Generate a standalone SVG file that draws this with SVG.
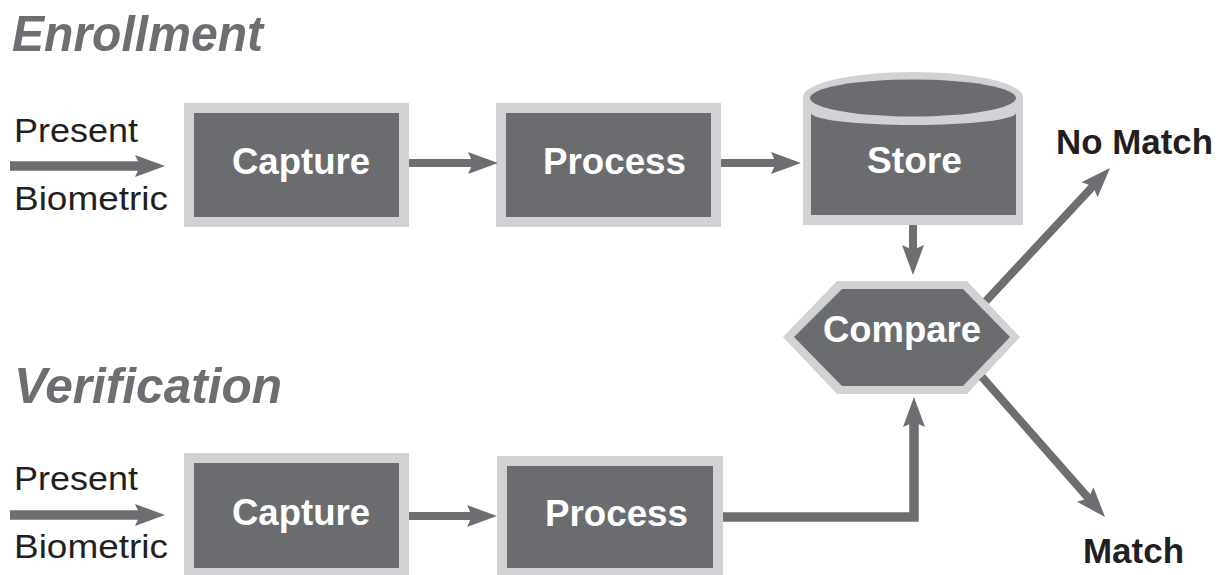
<svg xmlns="http://www.w3.org/2000/svg" width="1222" height="575" viewBox="0 0 1222 575">
<style>
  .box { fill: #6b6c70; stroke: #d1d2d4; stroke-width: 10; }
  .rim { fill: #d1d2d4; }
  .dark { fill: #6b6c70; }
  .lbl { font-family: "Liberation Sans", Arial, sans-serif; font-weight: bold; font-size: 36px; fill: #ffffff; text-anchor: middle; }
  .head { font-family: "Liberation Sans", Arial, sans-serif; font-weight: bold; font-style: italic; font-size: 50px; fill: #6d6e71; }
  .side { font-family: "Liberation Sans", Arial, sans-serif; font-size: 33px; fill: #231f20; }
  .out { font-family: "Liberation Sans", Arial, sans-serif; font-weight: bold; font-size: 35px; fill: #231f20; }
  .conn { fill: none; stroke: #6d6e71; stroke-width: 8; }
  .thick { stroke-width: 9.5; }
</style>
<defs>
  <marker id="ah" markerUnits="userSpaceOnUse" viewBox="-9 -12 32 24" markerWidth="32" markerHeight="24" refX="0" refY="0" orient="auto">
    <path d="M22,0 L-8,-11 L-3,0 L-8,11 Z" fill="#6d6e71"/>
  </marker>
</defs>
<rect width="1222" height="575" fill="#ffffff"/>

<text class="head" x="12" y="51" textLength="251" lengthAdjust="spacingAndGlyphs">Enrollment</text>
<text class="head" x="14" y="403" textLength="268" lengthAdjust="spacingAndGlyphs">Verification</text>

<text class="side" x="14" y="142" textLength="124" lengthAdjust="spacingAndGlyphs">Present</text>
<text class="side" x="14" y="210" textLength="154" lengthAdjust="spacingAndGlyphs">Biometric</text>
<text class="side" x="14" y="490" textLength="124" lengthAdjust="spacingAndGlyphs">Present</text>
<text class="side" x="14" y="558" textLength="154" lengthAdjust="spacingAndGlyphs">Biometric</text>

<g id="enroll-capture">
  <rect class="box" x="189" y="108" width="215" height="114"/>
  <text class="lbl" x="301" y="174" textLength="138" lengthAdjust="spacingAndGlyphs">Capture</text>
</g>
<g id="enroll-process">
  <rect class="box" x="501" y="108" width="215" height="114"/>
  <text class="lbl" x="614.5" y="174" textLength="143" lengthAdjust="spacingAndGlyphs">Process</text>
</g>
<g id="store">
  <ellipse class="rim" cx="913" cy="97" rx="110" ry="25"/>
  <rect class="rim" x="803" y="97" width="220" height="128"/>
  <ellipse class="dark" cx="913" cy="98" rx="103" ry="18.5"/>
  <path class="dark" d="M811,113 A102.5,12 0 0 0 1016,113 L1016,215 L811,215 Z"/>
  <text class="lbl" x="914.5" y="173" textLength="95" lengthAdjust="spacingAndGlyphs">Store</text>
</g>
<g id="compare">
  <polygon class="rim" points="783,337 837,281 967,281 1020,337 967,394 837,394"/>
  <polygon class="dark" points="794,337 842,289 963,289 1010,337 963,386 842,386"/>
  <text class="lbl" x="902" y="342" textLength="158" lengthAdjust="spacingAndGlyphs">Compare</text>
</g>
<g id="verify-capture">
  <rect class="box" x="189" y="458" width="215" height="115"/>
  <text class="lbl" x="301" y="525" textLength="138" lengthAdjust="spacingAndGlyphs">Capture</text>
</g>
<g id="verify-process">
  <rect class="box" x="502" y="461" width="216" height="112"/>
  <text class="lbl" x="616.5" y="526" textLength="143" lengthAdjust="spacingAndGlyphs">Process</text>
</g>

<g id="no-match-label"><text class="out" x="1056" y="154" textLength="157" lengthAdjust="spacingAndGlyphs">No Match</text></g>
<g id="match-label"><text class="out" x="1083" y="563" textLength="101" lengthAdjust="spacingAndGlyphs">Match</text></g>

<g id="connectors">
  <line class="conn thick" x1="10" y1="166" x2="143" y2="166" marker-end="url(#ah)"/>
  <line class="conn" x1="409" y1="163" x2="476" y2="163" marker-end="url(#ah)"/>
  <line class="conn" x1="721" y1="163" x2="779" y2="163" marker-end="url(#ah)"/>
  <line class="conn" x1="913" y1="225" x2="913" y2="253" marker-end="url(#ah)"/>
  <line class="conn" x1="986" y1="301" x2="1095" y2="184" marker-end="url(#ah)"/>
  <line class="conn" x1="982" y1="377" x2="1090.5" y2="500.5" marker-end="url(#ah)"/>
  <line class="conn thick" x1="10" y1="515" x2="143" y2="515" marker-end="url(#ah)"/>
  <line class="conn" x1="409" y1="516" x2="475" y2="516" marker-end="url(#ah)"/>
  <polyline class="conn thick" points="723,517 914,517 914,419" marker-end="url(#ah)"/>
</g>
</svg>
